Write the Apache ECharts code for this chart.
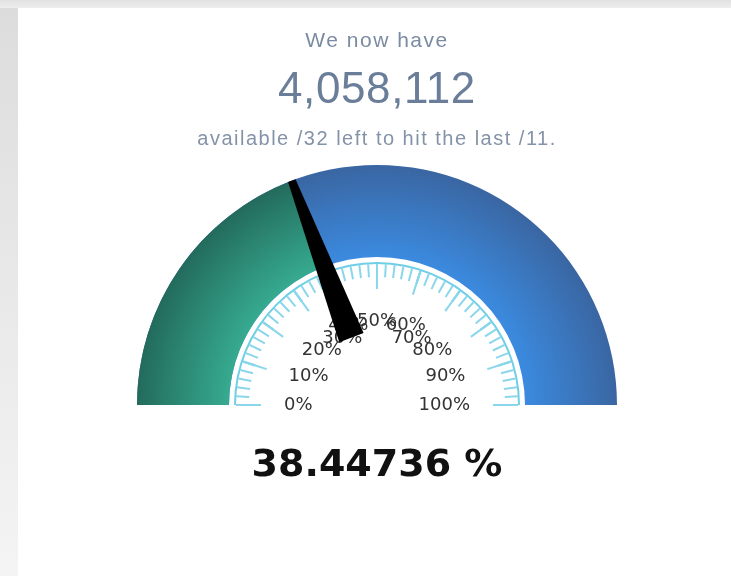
<!DOCTYPE html>
<html>
<head>
<meta charset="utf-8">
<script src="https://cdn.jsdelivr.net/npm/echarts@6/dist/echarts.min.js"></script>
<style>
  html, body { margin: 0; padding: 0; }
  body {
    width: 731px; height: 576px; overflow: hidden; position: relative;
    background: linear-gradient(to bottom, #dcdcdc 0%, #e6e6e6 40%, #f4f4f4 100%);
  }
  #card { position: absolute; left: 18px; top: 8px; right: 0; bottom: 0; background: #fff; }
  #topbar { position: absolute; left: 0; top: 0; right: 0; height: 8px; background: linear-gradient(to bottom, #e2e2e2, #eeeeee); }
  #chart { position: absolute; left: 0; top: 0; width: 731px; height: 576px; }
  .hdr { position: absolute; left: 0; width: 754px; text-align: center; font-family: "Liberation Sans", Arial, sans-serif; white-space: nowrap; line-height: 1; }
  #h1 { top: 29px; font-size: 21px; letter-spacing: 1.5px; color: #7b8ba2; }
  #h2 { top: 66px; font-size: 44px; letter-spacing: 0.6px; color: #6a7e99; }
  #h3 { top: 128px; font-size: 20px; letter-spacing: 1.5px; color: #8493a8; }
</style>
</head>
<body>
<div id="topbar"></div>
<div id="card"></div>
<div id="chart"></div>
<div class="hdr" id="h1"></div>
<div class="hdr" id="h2"></div>
<div class="hdr" id="h3"></div>
<script>
// ---- data ----
const headerLines = ['We now have', '4,058,112', 'available /32 left to hit the last /11.'];
const gaugeValue = [38.44736];
const axisMin = 0;
const axisMax = 100;
const majorSplits = 10;
const minorSplits = 5;
const detailSuffix = ' %';

document.getElementById('h1').textContent = headerLines[0];
document.getElementById('h2').textContent = headerLines[1];
document.getElementById('h3').textContent = headerLines[2];

// ---- layout ----
const cx = 377, cy = 405;
const bandR = 240, bandWidth = 92;
const scaleR = 143;

const chart = echarts.init(document.getElementById('chart'), null, { renderer: 'canvas' });

const greenGrad = {
  type: 'radial', x: cx, y: cy, r: bandR, global: true,
  colorStops: [
    { offset: 0, color: '#3cbd9f' },
    { offset: 0.6, color: '#37ad92' },
    { offset: 1, color: '#236b5c' }
  ]
};
const blueGrad = {
  type: 'radial', x: cx, y: cy, r: bandR, global: true,
  colorStops: [
    { offset: 0, color: '#3d92ec' },
    { offset: 0.6, color: '#3b8ce2' },
    { offset: 1, color: '#3a66a2' }
  ]
};

const option = {
  animation: false,
  series: [
    {
      type: 'gauge', z: 1,
      center: [cx, cy], radius: bandR,
      startAngle: 180, endAngle: 0, min: axisMin, max: axisMax,
      progress: { show: true, width: bandWidth, roundCap: false, itemStyle: { color: greenGrad } },
      axisLine: { roundCap: false, lineStyle: { width: bandWidth, color: [[1, blueGrad]] } },
      axisTick: { show: false }, splitLine: { show: false }, axisLabel: { show: false },
      pointer: { show: false }, anchor: { show: false }, title: { show: false }, detail: { show: false },
      data: gaugeValue.map(v => ({ value: v }))
    },
    {
      type: 'gauge', z: 2,
      center: [cx, cy], radius: scaleR,
      startAngle: 180, endAngle: 0, min: axisMin, max: axisMax,
      splitNumber: majorSplits,
      axisLine: { lineStyle: { width: 2, color: [[1, '#6fcfe6']] } },
      axisTick: { show: true, splitNumber: minorSplits, distance: 0, length: 13, lineStyle: { color: '#8ad6ea', width: 2 } },
      splitLine: { show: true, distance: 0, length: 25, lineStyle: { color: '#8ad6ea', width: 2 } },
      axisLabel: {
        show: true, distance: 25, formatter: '{value}%',
        color: '#333333', fontSize: 18, fontFamily: '"DejaVu Sans", Verdana, sans-serif'
      },
      pointer: { show: false }, anchor: { show: false }, title: { show: false }, detail: { show: false },
      data: gaugeValue.map(v => ({ value: v }))
    },
    {
      type: 'gauge', z: 3,
      center: [cx, cy], radius: bandR,
      startAngle: 180, endAngle: 0, min: axisMin, max: axisMax,
      axisLine: { show: false }, axisTick: { show: false }, splitLine: { show: false }, axisLabel: { show: false },
      pointer: { show: true, icon: 'path://M9,0 L17,0 L26,100 L0,100 Z', keepAspect: false, length: 168, width: 26, offsetCenter: [0, -72], itemStyle: { color: '#000000' } },
      anchor: { show: false }, title: { show: false },
      detail: {
        show: true, offsetCenter: [0, 61], valueAnimation: false,
        formatter: v => v + detailSuffix,
        color: '#111111', fontSize: 38, fontWeight: 'bold', fontFamily: '"DejaVu Sans", Verdana, sans-serif'
      },
      data: gaugeValue.map(v => ({ value: v }))
    }
  ]
};
chart.setOption(option);
</script>
</body>
</html>
